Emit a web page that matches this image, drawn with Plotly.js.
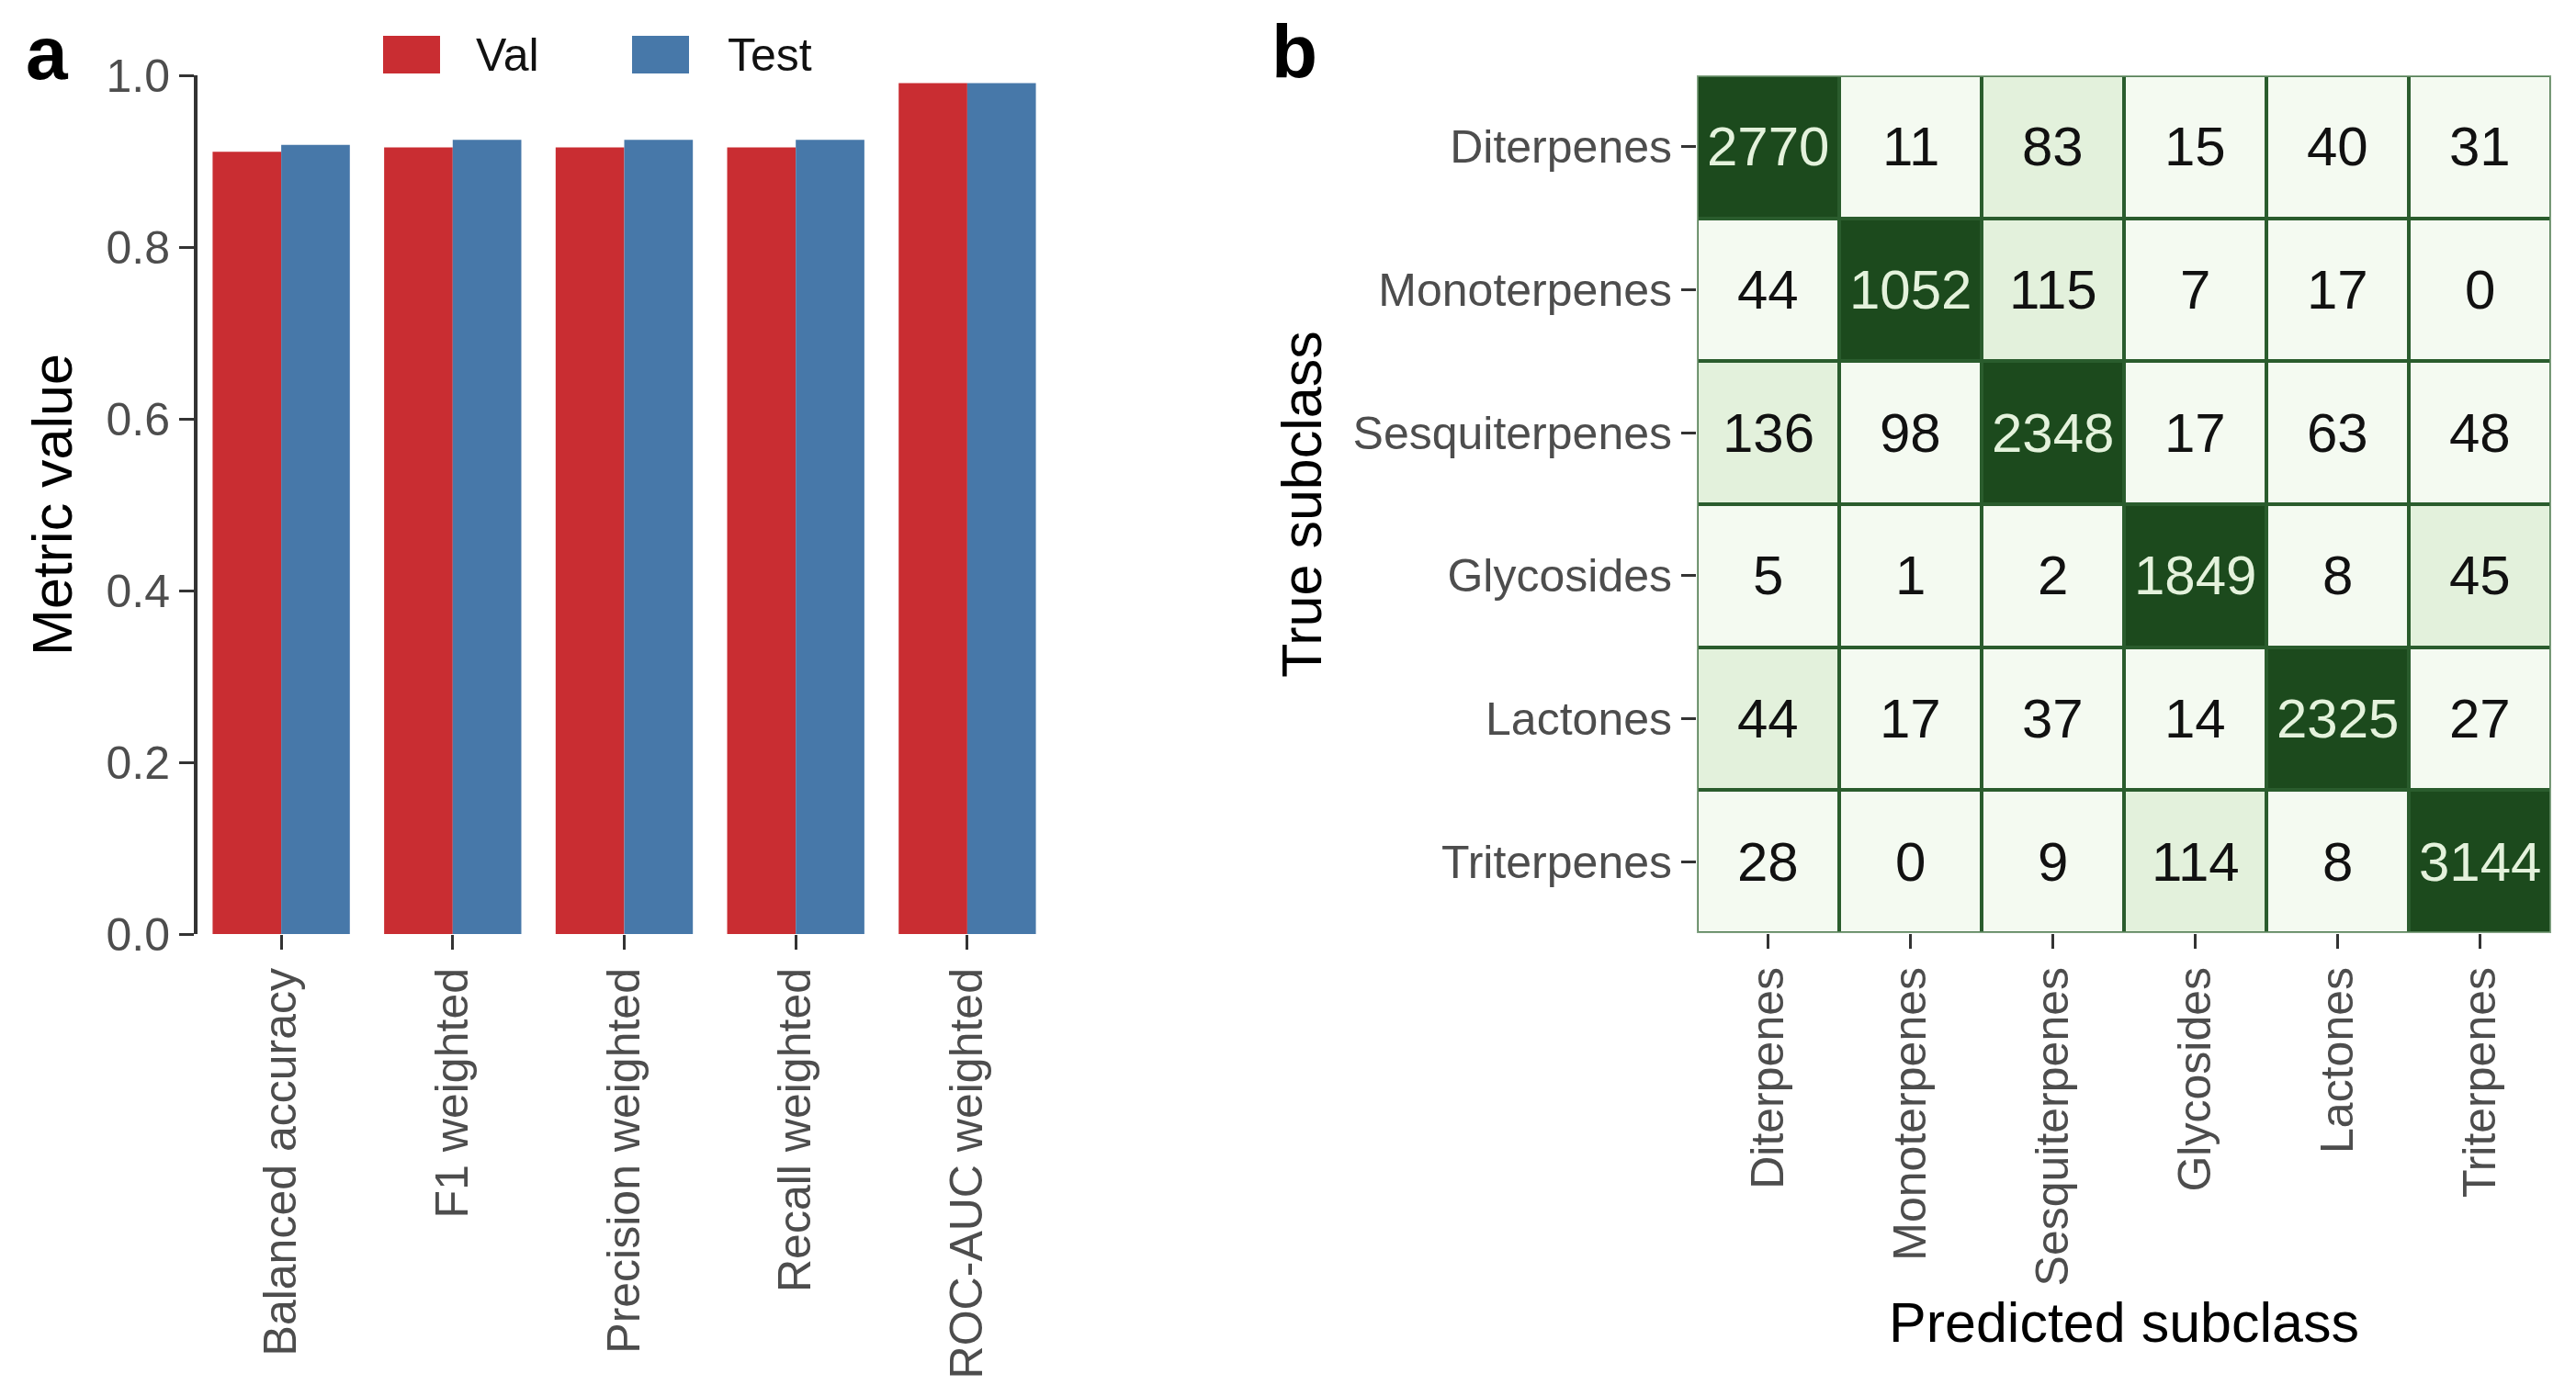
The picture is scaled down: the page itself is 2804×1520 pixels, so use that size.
<!DOCTYPE html>
<html>
<head>
<meta charset="utf-8">
<script src="https://cdn.plot.ly/plotly-3.0.1.min.js"></script>
<style>html,body{margin:0;padding:0;background:#fff;}#chart{width:2804px;height:1520px;}</style>
</head>
<body>
<div id="chart"></div>
<script>
// ---- Panel a data ----
var metrics = ['Balanced accuracy', 'F1 weighted', 'Precision weighted', 'Recall weighted', 'ROC-AUC weighted'];
var valScores = [0.911, 0.916, 0.916, 0.916, 0.991];
var testScores = [0.919, 0.925, 0.925, 0.925, 0.991];
var seriesNames = ['Val', 'Test'];
var seriesColors = ['#C92D32', '#4778A9'];
var yTicks = [0, 0.2, 0.4, 0.6, 0.8, 1.0];
var yTickLabels = ['0.0', '0.2', '0.4', '0.6', '0.8', '1.0'];

// ---- Panel b data (rows = true subclass, columns = predicted subclass) ----
var subclasses = ['Diterpenes', 'Monoterpenes', 'Sesquiterpenes', 'Glycosides', 'Lactones', 'Triterpenes'];
var trueDiterpenes    = [2770, 11, 83, 15, 40, 31];
var trueMonoterpenes  = [44, 1052, 115, 7, 17, 0];
var trueSesquiterpenes= [136, 98, 2348, 17, 63, 48];
var trueGlycosides    = [5, 1, 2, 1849, 8, 45];
var trueLactones      = [44, 17, 37, 14, 2325, 27];
var trueTriterpenes   = [28, 0, 9, 114, 8, 3144];

var rows = [trueDiterpenes, trueMonoterpenes, trueSesquiterpenes, trueGlycosides, trueLactones, trueTriterpenes];

// shading tier: 2 = largest in row, 1 = second largest in row, 0 = rest
var tiers = rows.map(function (r) {
  var sorted = r.slice().sort(function (a, b) { return b - a; });
  return r.map(function (v) { return v === sorted[0] ? 2 : (v === sorted[1] ? 1 : 0); });
});

var FONT = 'Liberation Sans, Arial, sans-serif';
var W = 2804, H = 1520;
function px(x) { return x / W; }
function py(y) { return 1 - y / H; }

var traces = [
  { type: 'bar', name: seriesNames[0], x: metrics, y: valScores, marker: { color: seriesColors[0] },
    xaxis: 'x', yaxis: 'y', showlegend: false },
  { type: 'bar', name: seriesNames[1], x: metrics, y: testScores, marker: { color: seriesColors[1] },
    xaxis: 'x', yaxis: 'y', showlegend: false },
  { type: 'heatmap', x: subclasses, y: subclasses, z: tiers, xaxis: 'x2', yaxis: 'y2',
    zmin: 0, zmax: 2, showscale: false, xgap: 4, ygap: 4,
    colorscale: [[0, '#F4FAF1'], [0.5, '#E3F1DC'], [1, '#1C4A1D']],
    customdata: rows, hoverinfo: 'skip' }
];

var annotations = [];
rows.forEach(function (r, i) {
  r.forEach(function (v, j) {
    annotations.push({
      x: subclasses[j], y: subclasses[i], xref: 'x2', yref: 'y2', text: String(v), showarrow: false,
      font: { family: FONT, size: 60, color: tiers[i][j] === 2 ? '#E4F2DC' : '#111111' }
    });
  });
});
// panel letters
annotations.push({ xref: 'paper', yref: 'paper', x: px(26), y: py(58), xanchor: 'left', yanchor: 'middle',
  text: '<b>a</b>', showarrow: false, font: { family: FONT, size: 82, color: '#000' } });
annotations.push({ xref: 'paper', yref: 'paper', x: px(1382), y: py(55), xanchor: 'left', yanchor: 'middle',
  text: '<b>b</b>', showarrow: false, font: { family: FONT, size: 82, color: '#000' } });
// legend labels
annotations.push({ xref: 'paper', yref: 'paper', x: px(516), y: py(60), xanchor: 'left', yanchor: 'middle',
  text: seriesNames[0], showarrow: false, font: { family: FONT, size: 50, color: '#111' } });
annotations.push({ xref: 'paper', yref: 'paper', x: px(790), y: py(60), xanchor: 'left', yanchor: 'middle',
  text: seriesNames[1], showarrow: false, font: { family: FONT, size: 50, color: '#111' } });

var shapes = [
  // heatmap cell border colour (seen through the gaps)
  { type: 'rect', xref: 'x2', yref: 'y2', x0: -0.5, x1: 5.5, y0: -0.5, y1: 5.5, layer: 'below',
    fillcolor: '#2A5C2D', line: { width: 0 } },
  { type: 'rect', xref: 'x2', yref: 'y2', x0: -0.5, x1: 5.5, y0: -0.5, y1: 5.5, layer: 'above',
    fillcolor: 'rgba(0,0,0,0)', line: { width: 3, color: '#86A586' } },
  // legend keys
  { type: 'rect', xref: 'paper', yref: 'paper', x0: px(417), x1: px(479), y0: py(80), y1: py(39),
    fillcolor: seriesColors[0], line: { width: 0 } },
  { type: 'rect', xref: 'paper', yref: 'paper', x0: px(688), x1: px(750), y0: py(80), y1: py(39),
    fillcolor: seriesColors[1], line: { width: 0 } }
];

var tickFont = { family: FONT, size: 50, color: '#4D4D4D' };
var titleFont = { family: FONT, size: 61, color: '#000' };

var layout = {
  width: W, height: H,
  margin: { l: 0, r: 0, t: 0, b: 0 },
  paper_bgcolor: '#ffffff', plot_bgcolor: 'rgba(0,0,0,0)',
  barmode: 'group', bargap: 0.2, bargroupgap: 0,
  font: { family: FONT },
  showlegend: false,
  xaxis: {
    domain: [px(215), px(1144)], anchor: 'y',
    type: 'category', range: [-0.488, 4.488],
    tickangle: -90, tickfont: tickFont,
    ticks: 'outside', ticklen: 16, tickwidth: 3, tickcolor: '#333',
    showline: false, showgrid: false, zeroline: false
  },
  yaxis: {
    domain: [py(1017), py(82)], anchor: 'x',
    range: [0, 1.0], tickvals: yTicks, ticktext: yTickLabels, tickfont: tickFont,
    ticks: 'outside', ticklen: 16, tickwidth: 3, tickcolor: '#333',
    showline: true, linewidth: 4, linecolor: '#333',
    showgrid: false, zeroline: false,
    title: { text: 'Metric value', font: titleFont, standoff: 18 }
  },
  xaxis2: {
    domain: [px(1847), px(2777)], anchor: 'y2',
    type: 'category', range: [-0.5, 5.5],
    tickangle: -90, tickfont: tickFont,
    ticks: 'outside', ticklen: 16, tickwidth: 3, tickcolor: '#333',
    showline: false, showgrid: false, zeroline: false,
    title: { text: 'Predicted subclass', font: titleFont, standoff: 18 }
  },
  yaxis2: {
    domain: [py(1016), py(82)], anchor: 'x2',
    type: 'category', range: [5.5, -0.5],
    tickfont: tickFont,
    ticks: 'outside', ticklen: 16, tickwidth: 3, tickcolor: '#333',
    showline: false, showgrid: false, zeroline: false,
    title: { text: 'True subclass', font: titleFont, standoff: 14 }
  },
  annotations: annotations,
  shapes: shapes
};

Plotly.newPlot('chart', traces, layout, { displayModeBar: false, staticPlot: true });
</script>
</body>
</html>
